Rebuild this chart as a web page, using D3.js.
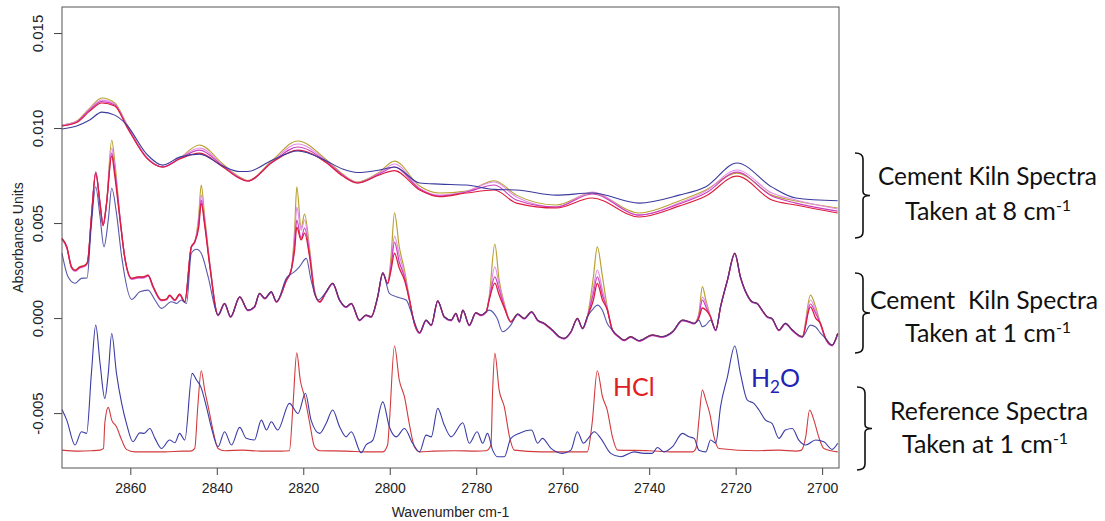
<!DOCTYPE html>
<html lang="en">
<head>
<meta charset="utf-8">
<title>FTIR spectra</title>
<script src="https://cdn.jsdelivr.net/npm/d3@7/dist/d3.min.js"></script>
<style>
  body { margin: 0; background: #fff; }
  svg { display: block; }
  .tick text { font-family: "Liberation Sans", Arial, sans-serif; font-size: 14px; fill: #222; }
  .ylab .tick text { font-size: 15px; }
  .note { font-family: Lato, "Open Sans", sans-serif; fill: #111; }
</style>
</head>
<body>
<div id="chart"></div>
<script>
// ---- data (wavenumber in cm-1, absorbance units) ----

// cement kiln spectra taken at 8 cm-1 (smooth top bundle)
var wnSlow = [2875.8, 2872.4, 2869.4, 2866.6, 2863.6, 2860.8, 2856.2, 2852.5, 2848.6, 2844.0,
  2838.6, 2834.7, 2832.9, 2827.1, 2821.3, 2814.6, 2810.9, 2807.5, 2802.4, 2798.9,
  2793.1, 2788.5, 2782.3, 2775.8, 2770.7, 2761.5, 2753.2, 2742.3, 2733.1, 2726.9,
  2719.7, 2711.6, 2706.1, 2696.4];
var slowBlue = [0.00995, 0.01011, 0.01042, 0.01084, 0.01068, 0.01016, 0.00863, 0.00805, 0.00847, 0.00863,
  0.00800, 0.00771, 0.00771, 0.00832, 0.00879, 0.00826, 0.00784, 0.00766, 0.00779, 0.00795,
  0.00711, 0.00705, 0.00700, 0.00677, 0.00674, 0.00647, 0.00658, 0.00605, 0.00647, 0.00691,
  0.00816, 0.00689, 0.00632, 0.00617];
var slowOlive = [0.01016, 0.01037, 0.01105, 0.01158, 0.01132, 0.01021, 0.00847, 0.00795, 0.00842, 0.00911,
  0.00811, 0.00742, 0.00724, 0.00832, 0.00932, 0.00832, 0.00758, 0.00716, 0.00768, 0.00826,
  0.00695, 0.00658, 0.00668, 0.00723, 0.00647, 0.00595, 0.00658, 0.00553, 0.00616, 0.00674,
  0.00763, 0.00647, 0.00616, 0.00579];
var slowPink = [0.01016, 0.01034, 0.01100, 0.01147, 0.01126, 0.01016, 0.00847, 0.00795, 0.00842, 0.00895,
  0.00805, 0.00737, 0.00721, 0.00826, 0.00916, 0.00826, 0.00753, 0.00713, 0.00763, 0.00811,
  0.00684, 0.00647, 0.00666, 0.00716, 0.00637, 0.00584, 0.00663, 0.00542, 0.00605, 0.00668,
  0.00779, 0.00658, 0.00621, 0.00574];
var slowMagenta = [0.01011, 0.01032, 0.01095, 0.01139, 0.01121, 0.01011, 0.00842, 0.00795, 0.00839, 0.00884,
  0.00800, 0.00737, 0.00721, 0.00821, 0.00900, 0.00821, 0.00753, 0.00711, 0.00758, 0.00795,
  0.00679, 0.00642, 0.00663, 0.00700, 0.00621, 0.00584, 0.00653, 0.00542, 0.00600, 0.00658,
  0.00768, 0.00642, 0.00605, 0.00563];
var slowRed = [0.01011, 0.01029, 0.01089, 0.01132, 0.01116, 0.01005, 0.00842, 0.00795, 0.00837, 0.00868,
  0.00795, 0.00734, 0.00721, 0.00821, 0.00884, 0.00816, 0.00747, 0.00711, 0.00753, 0.00776,
  0.00674, 0.00639, 0.00658, 0.00674, 0.00605, 0.00579, 0.00632, 0.00532, 0.00589, 0.00642,
  0.00747, 0.00621, 0.00595, 0.00553];

// cement kiln spectra taken at 1 cm-1 (sharp middle bundle)
var wnFast = [2875.8, 2874.7, 2873.6, 2872.8, 2871.7, 2870.5, 2869.9, 2869.0, 2868.0, 2867.0,
  2866.3, 2865.5, 2864.3, 2863.6, 2862.4, 2861.3, 2859.7, 2858.2, 2857.0, 2855.9,
  2854.7, 2852.8, 2851.6, 2850.9, 2849.7, 2848.6, 2847.4, 2845.9, 2845.1, 2844.2,
  2843.6, 2842.8, 2841.6, 2839.7, 2838.2, 2836.8, 2834.7, 2832.8, 2831.3, 2830.1,
  2828.9, 2827.4, 2826.2, 2823.9, 2822.8, 2822.0, 2821.5, 2820.5, 2819.7, 2818.5,
  2817.4, 2816.2, 2814.7, 2813.2, 2811.6, 2810.1, 2808.9, 2807.0, 2805.5, 2804.3,
  2802.8, 2801.6, 2800.5, 2799.7, 2798.9, 2797.8, 2796.6, 2795.5, 2794.3, 2793.1,
  2791.6, 2790.4, 2788.9, 2787.4, 2785.8, 2784.7, 2783.9, 2783.1, 2781.6, 2780.1,
  2778.9, 2777.7, 2777.0, 2775.7, 2774.7, 2773.5, 2772.0, 2770.4, 2768.9, 2767.2,
  2765.8, 2764.3, 2762.4, 2760.8, 2759.7, 2758.1, 2756.6, 2755.4, 2754.3, 2752.9,
  2752.0, 2750.8, 2749.7, 2748.5, 2747.0, 2745.8, 2744.3, 2742.3, 2739.3, 2737.0,
  2734.6, 2732.3, 2730.8, 2729.6, 2728.5, 2727.7, 2726.9, 2725.8, 2724.6, 2723.5,
  2721.9, 2720.2, 2718.9, 2717.3, 2716.2, 2715.0, 2713.9, 2712.7, 2711.6, 2710.0,
  2708.5, 2706.9, 2704.6, 2702.7, 2701.5, 2700.4, 2699.2, 2697.7, 2696.4];
var fastOlive = [0.00419, 0.00375, 0.00270, 0.00253, 0.00270, 0.00279, 0.00296, 0.00533, 0.00770, 0.00604,
  0.00489, 0.00604, 0.00937, 0.00823, 0.00533, 0.00323, 0.00209, 0.00217, 0.00217, 0.00226,
  0.00165, 0.00095, 0.00100, 0.00121, 0.00095, 0.00126, 0.00086, 0.00375, 0.00402, 0.00533,
  0.00700, 0.00533, 0.00288, 0.00016, 0.00077, 0.00007, 0.00112, 0.00042, 0.00059, 0.00130,
  0.00104, 0.00138, 0.00086, 0.00200, 0.00253, 0.00463, 0.00691, 0.00474, 0.00547, 0.00358,
  0.00147, 0.00086, 0.00138, 0.00183, 0.00095, 0.00059, 0.00077, -0.00011, 0.00016, 0.00007,
  0.00112, 0.00238, 0.00183, 0.00323, 0.00554, 0.00375, 0.00253, 0.00112, -0.00028, -0.00077,
  -0.00011, -0.00037, 0.00091, 0.00007, -0.00011, 0.00025, -0.00019, 0.00042, -0.00037, 0.00028,
  0.00016, 0.00033, 0.00112, 0.00389, 0.00200, 0.00077, -0.00019, 0.00021, -0.00002, 0.00033,
  -0.00011, -0.00028, -0.00063, -0.00098, -0.00107, -0.00072, -0.00002, -0.00054, 0.00007, 0.00217,
  0.00375, 0.00217, 0.00059, -0.00063, -0.00098, -0.00116, -0.00098, -0.00119, -0.00089, -0.00098,
  -0.00072, -0.00011, -0.00019, -0.00028, 0.00025, 0.00165, 0.00095, 0.00007, -0.00063, 0.00059,
  0.00200, 0.00341, 0.00217, 0.00121, 0.00086, 0.00077, 0.00042, 0.00007, -0.00002, -0.00063,
  -0.00028, -0.00063, -0.00098, 0.00121, 0.00059, -0.00028, -0.00107, -0.00142, -0.00081];
var fastPink = [0.00414, 0.00368, 0.00262, 0.00245, 0.00262, 0.00272, 0.00290, 0.00528, 0.00765, 0.00600,
  0.00485, 0.00600, 0.00895, 0.00790, 0.00528, 0.00318, 0.00203, 0.00210, 0.00210, 0.00220,
  0.00158, 0.00090, 0.00095, 0.00116, 0.00090, 0.00120, 0.00082, 0.00370, 0.00398, 0.00510,
  0.00647, 0.00510, 0.00280, 0.00012, 0.00072, 0.00003, 0.00108, 0.00038, 0.00055, 0.00126,
  0.00100, 0.00134, 0.00082, 0.00196, 0.00249, 0.00420, 0.00584, 0.00463, 0.00516, 0.00340,
  0.00140, 0.00082, 0.00134, 0.00179, 0.00091, 0.00055, 0.00073, -0.00015, 0.00012, 0.00003,
  0.00108, 0.00234, 0.00179, 0.00290, 0.00432, 0.00332, 0.00230, 0.00105, -0.00032, -0.00081,
  -0.00015, -0.00041, 0.00087, 0.00003, -0.00015, 0.00021, -0.00023, 0.00038, -0.00041, 0.00024,
  0.00012, 0.00029, 0.00105, 0.00270, 0.00174, 0.00070, -0.00023, 0.00017, -0.00006, 0.00029,
  -0.00015, -0.00032, -0.00067, -0.00102, -0.00111, -0.00076, -0.00006, -0.00058, 0.00003, 0.00160,
  0.00253, 0.00147, 0.00050, -0.00067, -0.00102, -0.00120, -0.00102, -0.00123, -0.00093, -0.00102,
  -0.00076, -0.00015, -0.00023, -0.00032, 0.00018, 0.00111, 0.00079, 0.00003, -0.00067, 0.00055,
  0.00196, 0.00337, 0.00213, 0.00117, 0.00082, 0.00073, 0.00038, 0.00003, -0.00006, -0.00067,
  -0.00032, -0.00067, -0.00102, 0.00095, 0.00040, -0.00032, -0.00111, -0.00146, -0.00085];
var fastMagenta = [0.00417, 0.00372, 0.00266, 0.00249, 0.00266, 0.00275, 0.00293, 0.00530, 0.00768, 0.00602,
  0.00487, 0.00602, 0.00868, 0.00775, 0.00530, 0.00320, 0.00206, 0.00213, 0.00213, 0.00223,
  0.00162, 0.00093, 0.00098, 0.00118, 0.00093, 0.00123, 0.00084, 0.00372, 0.00400, 0.00490,
  0.00621, 0.00500, 0.00275, 0.00014, 0.00075, 0.00005, 0.00110, 0.00040, 0.00057, 0.00128,
  0.00102, 0.00136, 0.00084, 0.00198, 0.00251, 0.00390, 0.00516, 0.00421, 0.00474, 0.00330,
  0.00138, 0.00084, 0.00136, 0.00181, 0.00093, 0.00057, 0.00075, -0.00013, 0.00014, 0.00005,
  0.00110, 0.00236, 0.00181, 0.00270, 0.00400, 0.00295, 0.00215, 0.00102, -0.00030, -0.00079,
  -0.00013, -0.00039, 0.00089, 0.00005, -0.00013, 0.00023, -0.00021, 0.00040, -0.00039, 0.00026,
  0.00014, 0.00031, 0.00100, 0.00217, 0.00150, 0.00060, -0.00021, 0.00019, -0.00004, 0.00031,
  -0.00013, -0.00030, -0.00065, -0.00100, -0.00109, -0.00074, -0.00004, -0.00056, 0.00005, 0.00130,
  0.00217, 0.00120, 0.00045, -0.00065, -0.00100, -0.00118, -0.00100, -0.00121, -0.00091, -0.00100,
  -0.00074, -0.00013, -0.00021, -0.00030, 0.00010, 0.00095, 0.00060, 0.00005, -0.00065, 0.00057,
  0.00198, 0.00339, 0.00215, 0.00119, 0.00084, 0.00075, 0.00040, 0.00005, -0.00004, -0.00065,
  -0.00030, -0.00065, -0.00100, 0.00074, 0.00025, -0.00030, -0.00109, -0.00144, -0.00083];
var fastRed = [0.00419, 0.00375, 0.00268, 0.00251, 0.00268, 0.00277, 0.00294, 0.00531, 0.00760, 0.00600,
  0.00489, 0.00604, 0.00853, 0.00750, 0.00520, 0.00323, 0.00209, 0.00217, 0.00217, 0.00226,
  0.00165, 0.00095, 0.00100, 0.00121, 0.00095, 0.00126, 0.00086, 0.00375, 0.00402, 0.00474,
  0.00604, 0.00489, 0.00270, 0.00016, 0.00077, 0.00007, 0.00112, 0.00042, 0.00059, 0.00130,
  0.00104, 0.00138, 0.00086, 0.00200, 0.00253, 0.00358, 0.00479, 0.00411, 0.00447, 0.00316,
  0.00130, 0.00086, 0.00138, 0.00183, 0.00095, 0.00059, 0.00077, -0.00011, 0.00016, 0.00007,
  0.00112, 0.00238, 0.00183, 0.00253, 0.00341, 0.00263, 0.00200, 0.00100, -0.00028, -0.00077,
  -0.00011, -0.00037, 0.00091, 0.00007, -0.00011, 0.00025, -0.00019, 0.00042, -0.00037, 0.00028,
  0.00016, 0.00033, 0.00095, 0.00184, 0.00121, 0.00053, -0.00019, 0.00021, -0.00002, 0.00033,
  -0.00011, -0.00028, -0.00063, -0.00098, -0.00107, -0.00072, -0.00002, -0.00054, 0.00007, 0.00095,
  0.00182, 0.00095, 0.00045, -0.00063, -0.00098, -0.00116, -0.00098, -0.00119, -0.00089, -0.00098,
  -0.00072, -0.00011, -0.00019, -0.00028, 0.00000, 0.00053, 0.00042, 0.00007, -0.00063, 0.00059,
  0.00200, 0.00341, 0.00217, 0.00121, 0.00086, 0.00077, 0.00042, 0.00007, -0.00002, -0.00063,
  -0.00028, -0.00063, -0.00098, 0.00059, 0.00000, -0.00028, -0.00107, -0.00142, -0.00081];

var wnFastBlue = [2875.8, 2874.4, 2872.8, 2871.3, 2870.0, 2869.1, 2868.0, 2867.0, 2866.1, 2865.1,
  2864.3, 2863.2, 2862.0, 2859.7, 2857.8, 2855.9, 2854.3, 2852.8, 2850.5, 2849.3,
  2848.2, 2847.0, 2845.9, 2844.7, 2843.6, 2842.0, 2839.7, 2838.2, 2836.8, 2834.7,
  2832.8, 2831.3, 2830.1, 2828.9, 2827.4, 2826.2, 2823.9, 2822.0, 2820.9, 2819.3,
  2818.2, 2816.6, 2814.7, 2813.2, 2811.6, 2810.1, 2808.9, 2807.0, 2805.5, 2804.3,
  2802.8, 2801.6, 2800.1, 2798.5, 2796.2, 2794.7, 2793.1, 2791.6, 2790.4, 2788.9,
  2787.4, 2785.8, 2784.7, 2783.9, 2783.1, 2781.6, 2780.1, 2778.9, 2777.7, 2777.0,
  2775.2, 2773.9, 2772.0, 2770.4, 2768.9, 2767.2, 2765.8, 2764.3, 2762.4, 2760.8,
  2759.7, 2758.1, 2756.6, 2755.4, 2754.3, 2752.9, 2752.0, 2750.8, 2749.7, 2748.5,
  2747.0, 2745.8, 2744.3, 2742.3, 2739.3, 2737.0, 2734.6, 2732.3, 2730.8, 2729.6,
  2728.5, 2727.7, 2726.9, 2725.8, 2724.6, 2723.5, 2721.9, 2720.2, 2718.9, 2717.3,
  2716.2, 2715.0, 2713.9, 2712.7, 2711.6, 2710.0, 2708.5, 2706.9, 2704.6, 2702.7,
  2701.5, 2700.4, 2699.2, 2697.7, 2696.4];
var fastBlue = [0.00341, 0.00217, 0.00183, 0.00209, 0.00211, 0.00463, 0.00691, 0.00533, 0.00375, 0.00516,
  0.00683, 0.00551, 0.00323, 0.00098, 0.00138, 0.00147, 0.00095, 0.00051, 0.00086, 0.00077,
  0.00095, 0.00077, 0.00341, 0.00362, 0.00341, 0.00217, 0.00016, 0.00077, 0.00007, 0.00112,
  0.00042, 0.00059, 0.00130, 0.00104, 0.00138, 0.00086, 0.00210, 0.00244, 0.00270, 0.00314,
  0.00200, 0.00095, 0.00138, 0.00183, 0.00095, 0.00059, 0.00077, -0.00011, 0.00016, 0.00007,
  0.00112, 0.00238, 0.00130, 0.00112, 0.00095, 0.00007, -0.00077, -0.00011, -0.00037, 0.00091,
  0.00007, -0.00011, 0.00025, -0.00019, 0.00042, -0.00037, 0.00028, 0.00016, 0.00033, 0.00042,
  0.00000, -0.00072, -0.00037, 0.00021, -0.00002, 0.00033, -0.00011, -0.00028, -0.00063, -0.00098,
  -0.00107, -0.00072, -0.00002, -0.00054, 0.00007, 0.00050, 0.00068, 0.00040, -0.00028, -0.00063,
  -0.00098, -0.00116, -0.00098, -0.00119, -0.00089, -0.00098, -0.00072, -0.00011, -0.00019, -0.00028,
  -0.00011, -0.00046, -0.00037, -0.00011, -0.00063, 0.00059, 0.00200, 0.00341, 0.00217, 0.00121,
  0.00086, 0.00077, 0.00042, 0.00007, -0.00002, -0.00063, -0.00028, -0.00063, -0.00098, -0.00037,
  -0.00047, -0.00079, -0.00107, -0.00142, -0.00081];

// reference spectra taken at 1 cm-1
var wnH2O = [2875.8, 2874.7, 2872.8, 2871.3, 2870.1, 2869.0, 2868.0, 2867.0, 2865.9, 2865.1,
  2864.3, 2863.2, 2862.0, 2860.9, 2859.4, 2857.8, 2856.8, 2855.5, 2854.3, 2852.8,
  2850.9, 2849.7, 2848.6, 2847.4, 2845.7, 2844.7, 2843.7, 2842.4, 2841.3, 2839.7,
  2838.2, 2836.6, 2834.7, 2833.2, 2831.3, 2829.7, 2828.5, 2827.4, 2825.9, 2823.2,
  2821.2, 2819.5, 2818.2, 2816.2, 2814.7, 2813.2, 2811.6, 2810.1, 2808.9, 2806.6,
  2805.5, 2803.9, 2801.6, 2800.1, 2798.5, 2796.6, 2794.7, 2793.1, 2791.6, 2790.4,
  2788.9, 2787.4, 2785.8, 2783.1, 2781.6, 2779.8, 2778.5, 2777.4, 2776.2, 2775.1,
  2773.5, 2772.0, 2770.1, 2767.2, 2765.8, 2764.7, 2762.7, 2760.1, 2758.1, 2756.6,
  2755.2, 2754.1, 2752.7, 2751.2, 2748.9, 2746.6, 2743.5, 2741.2, 2739.3, 2738.1,
  2736.6, 2734.6, 2732.3, 2730.8, 2729.6, 2728.5, 2726.9, 2725.8, 2724.6, 2723.5,
  2721.9, 2720.2, 2718.9, 2717.3, 2715.8, 2714.6, 2713.1, 2711.6, 2710.0, 2708.5,
  2706.9, 2705.4, 2703.8, 2701.5, 2699.6, 2697.7, 2696.4];
var refH2O = [-0.00481, -0.00537, -0.00668, -0.00598, -0.00607, -0.00291, -0.00037, -0.00238, -0.00423, -0.00291,
  -0.00081, -0.00291, -0.00449, -0.00554, -0.00651, -0.00604, -0.00607, -0.00581, -0.00633, -0.00686,
  -0.00642, -0.00656, -0.00607, -0.00642, -0.00291, -0.00326, -0.00362, -0.00467, -0.00572, -0.00677,
  -0.00598, -0.00668, -0.00575, -0.00633, -0.00642, -0.00537, -0.00589, -0.00546, -0.00589, -0.00449,
  -0.00502, -0.00396, -0.00537, -0.00607, -0.00554, -0.00484, -0.00572, -0.00625, -0.00598, -0.00709,
  -0.00668, -0.00642, -0.00441, -0.00572, -0.00625, -0.00581, -0.00659, -0.00704, -0.00616, -0.00625,
  -0.00475, -0.00563, -0.00625, -0.00551, -0.00659, -0.00598, -0.00659, -0.00607, -0.00695, -0.00730,
  -0.00730, -0.00633, -0.00607, -0.00589, -0.00659, -0.00633, -0.00686, -0.00712, -0.00695, -0.00598,
  -0.00659, -0.00633, -0.00598, -0.00633, -0.00712, -0.00730, -0.00704, -0.00712, -0.00712, -0.00681,
  -0.00704, -0.00677, -0.00607, -0.00625, -0.00633, -0.00695, -0.00704, -0.00642, -0.00659, -0.00467,
  -0.00309, -0.00147, -0.00291, -0.00432, -0.00449, -0.00484, -0.00537, -0.00554, -0.00633, -0.00589,
  -0.00581, -0.00642, -0.00668, -0.00642, -0.00651, -0.00691, -0.00659];

var wnHCl = [2875.8, 2872.0, 2869.0, 2867.0, 2866.2, 2865.9, 2865.1, 2864.3, 2863.2, 2862.0,
  2860.9, 2859.0, 2852.0, 2848.0, 2846.0, 2845.1, 2844.4, 2843.6, 2842.8, 2841.9,
  2840.9, 2839.7, 2838.2, 2834.0, 2830.0, 2825.0, 2823.2, 2822.4, 2821.5, 2820.7,
  2819.7, 2818.5, 2817.4, 2816.2, 2810.0, 2805.0, 2801.6, 2800.5, 2800.1, 2798.9,
  2797.8, 2796.6, 2795.5, 2794.3, 2793.1, 2790.0, 2785.0, 2780.0, 2777.7, 2776.6,
  2776.2, 2775.7, 2774.7, 2773.5, 2772.3, 2771.2, 2765.0, 2760.0, 2754.3, 2753.2,
  2752.0, 2750.8, 2749.7, 2748.5, 2747.3, 2740.0, 2735.0, 2730.0, 2729.2, 2728.5,
  2727.7, 2726.9, 2726.0, 2725.0, 2723.9, 2715.0, 2710.0, 2706.0, 2704.8, 2703.8,
  2702.9, 2701.9, 2700.8, 2699.6, 2696.4];
var refHCl = [-0.00695, -0.00700, -0.00698, -0.00695, -0.00686, -0.00554, -0.00470, -0.00537, -0.00572, -0.00642,
  -0.00691, -0.00704, -0.00704, -0.00700, -0.00700, -0.00686, -0.00467, -0.00277, -0.00379, -0.00475,
  -0.00589, -0.00686, -0.00698, -0.00695, -0.00700, -0.00700, -0.00698, -0.00467, -0.00183, -0.00326,
  -0.00414, -0.00554, -0.00677, -0.00698, -0.00700, -0.00704, -0.00704, -0.00668, -0.00554, -0.00147,
  -0.00326, -0.00414, -0.00554, -0.00677, -0.00704, -0.00700, -0.00698, -0.00700, -0.00698, -0.00668,
  -0.00379, -0.00186, -0.00379, -0.00467, -0.00625, -0.00695, -0.00704, -0.00704, -0.00704, -0.00554,
  -0.00277, -0.00414, -0.00484, -0.00625, -0.00695, -0.00698, -0.00704, -0.00704, -0.00686, -0.00537,
  -0.00379, -0.00432, -0.00502, -0.00625, -0.00686, -0.00698, -0.00695, -0.00700, -0.00695, -0.00625,
  -0.00484, -0.00537, -0.00625, -0.00686, -0.00704];

var xTicks = [2860, 2840, 2820, 2800, 2780, 2760, 2740, 2720, 2700];
var yTicks = [-0.005, 0.000, 0.005, 0.010, 0.015];

// ---- drawing ----
var W = 1105, H = 521;
var margin = {top: 7, right: 266, bottom: 53, left: 62};

var svg = d3.select("#chart").append("svg")
  .attr("width", W).attr("height", H);
svg.append("rect").attr("width", W).attr("height", H).attr("fill", "#fff");

var x = d3.scaleLinear().domain([2875.8, 2696.1]).range([margin.left, W - margin.right]);
var y = d3.scaleLinear().domain([-0.00789, 0.01637]).range([H - margin.bottom, margin.top]);

function series(wn, vals, color, width, opacity) {
  var pts = wn.map(function(w, i) { return [w, vals[i]]; });
  var line = d3.line()
    .x(function(d) { return x(d[0]); })
    .y(function(d) { return y(d[1]); })
    .curve(d3.curveMonotoneX);
  svg.append("path")
    .datum(pts)
    .attr("d", line)
    .attr("fill", "none")
    .attr("stroke", color)
    .attr("stroke-width", width || 1.1)
    .attr("stroke-opacity", opacity || 1)
    .attr("stroke-linejoin", "round");
}

var cBlue = "#3a3a9c", cOlive = "#b9a231", cPink = "#e48be6", cMag = "#cc3cbc", cRed = "#dc1c3c";

// 8 cm-1 bundle
series(wnSlow, slowOlive, cOlive);
series(wnSlow, slowPink, cPink);
series(wnSlow, slowMagenta, cMag);
series(wnSlow, slowRed, cRed);
series(wnSlow, slowBlue, cBlue);

// 1 cm-1 bundle
series(wnFast, fastOlive, cOlive, 1.2);
series(wnFast, fastPink, cPink, 1.2);
series(wnFast, fastMagenta, cMag, 1.2);
series(wnFast, fastRed, cRed, 1.3);
series(wnFastBlue, fastBlue, cBlue, 1.1, 0.85);

// reference spectra
series(wnHCl, refHCl, "#d23a3e", 1.1);
series(wnH2O, refH2O, "#3b3ba6", 1.1);

// axes
var xAxis = d3.axisBottom(x).tickValues(xTicks).tickSize(7).tickPadding(8)
  .tickFormat(d3.format("d"));
var gx = svg.append("g")
  .attr("transform", "translate(0," + (H - margin.bottom) + ")")
  .call(xAxis);
gx.select(".domain").remove();
gx.selectAll(".tick line").attr("stroke", "#444");

var yAxis = d3.axisLeft(y).tickValues(yTicks).tickSize(8)
  .tickFormat(function(d) { return d3.format(".3f")(d).replace("\u2212", "-"); });
var gy = svg.append("g")
  .attr("class", "ylab")
  .attr("transform", "translate(" + margin.left + ",0)")
  .call(yAxis);
gy.select(".domain").remove();
gy.selectAll(".tick line").attr("stroke", "#444");
gy.selectAll(".tick text")
  .attr("transform", "rotate(-90)")
  .attr("x", 0).attr("y", -19).attr("dy", 0)
  .attr("text-anchor", "middle");

// frame
svg.append("rect")
  .attr("x", margin.left).attr("y", margin.top)
  .attr("width", W - margin.right - margin.left)
  .attr("height", H - margin.bottom - margin.top)
  .attr("fill", "none").attr("stroke", "#555").attr("stroke-width", 1);

// axis titles
svg.append("text")
  .attr("x", (margin.left + W - margin.right) / 2).attr("y", 517)
  .attr("text-anchor", "middle")
  .style("font-family", "Liberation Sans, Arial, sans-serif").style("font-size", "14px").style("fill", "#222")
  .text("Wavenumber cm-1");
svg.append("text")
  .attr("transform", "translate(23," + ((margin.top + H - margin.bottom) / 2) + ") rotate(-90)")
  .attr("text-anchor", "middle")
  .style("font-family", "Liberation Sans, Arial, sans-serif").style("font-size", "14px").style("fill", "#222")
  .text("Absorbance Units");

// in-plot labels
svg.append("text").attr("class", "note")
  .attr("x", 613).attr("y", 396).style("font-size", "25px").style("fill", "#e0201f")
  .text("HCl");
var h2o = svg.append("text").attr("class", "note")
  .attr("x", 751).attr("y", 387).style("font-size", "25px").style("fill", "#2222b4");
h2o.append("tspan").text("H");
h2o.append("tspan").attr("dy", 6).style("font-size", "17px").text("2");
h2o.append("tspan").attr("dy", -6).text("O");

// right-hand braces and notes
var braces = [
  {top: 153, bottom: 238, xv: 863},
  {top: 273, bottom: 353, xv: 863},
  {top: 387, bottom: 470, xv: 865}
];
braces.forEach(function(b) {
  var m = (b.top + b.bottom) / 2;
  var p = d3.path();
  p.moveTo(b.xv - 8, b.top);
  p.quadraticCurveTo(b.xv, b.top, b.xv, b.top + 6);
  p.lineTo(b.xv, m - 4);
  p.quadraticCurveTo(b.xv, m, b.xv + 7, m);
  p.quadraticCurveTo(b.xv, m, b.xv, m + 4);
  p.lineTo(b.xv, b.bottom - 6);
  p.quadraticCurveTo(b.xv, b.bottom, b.xv - 8, b.bottom);
  svg.append("path").attr("d", p.toString())
    .attr("fill", "none").attr("stroke", "#111").attr("stroke-width", 1.6);
});

var notes = [
  {text: "Cement Kiln Spectra", x: 878, y: 185, len: 219},
  {text: "Cement\u00a0\u00a0Kiln Spectra", x: 870, y: 309, len: 228},
  {text: "Reference Spectra", x: 890, y: 420, len: 198}
];
notes.forEach(function(n) {
  svg.append("text").attr("class", "note")
    .attr("x", n.x).attr("y", n.y).style("font-size", "25px")
    .attr("textLength", n.len).attr("lengthAdjust", "spacingAndGlyphs")
    .text(n.text);
});
var taken = [
  {res: "8", x: 905, y: 220},
  {res: "1", x: 905, y: 342},
  {res: "1", x: 902, y: 453}
];
taken.forEach(function(t) {
  var tx = svg.append("text").attr("class", "note")
    .attr("x", t.x).attr("y", t.y).style("font-size", "25px");
  tx.append("tspan").text("Taken at " + t.res + " cm");
  tx.append("tspan").attr("dy", -9).style("font-size", "16px").text("-1");
});
</script>
</body>
</html>
